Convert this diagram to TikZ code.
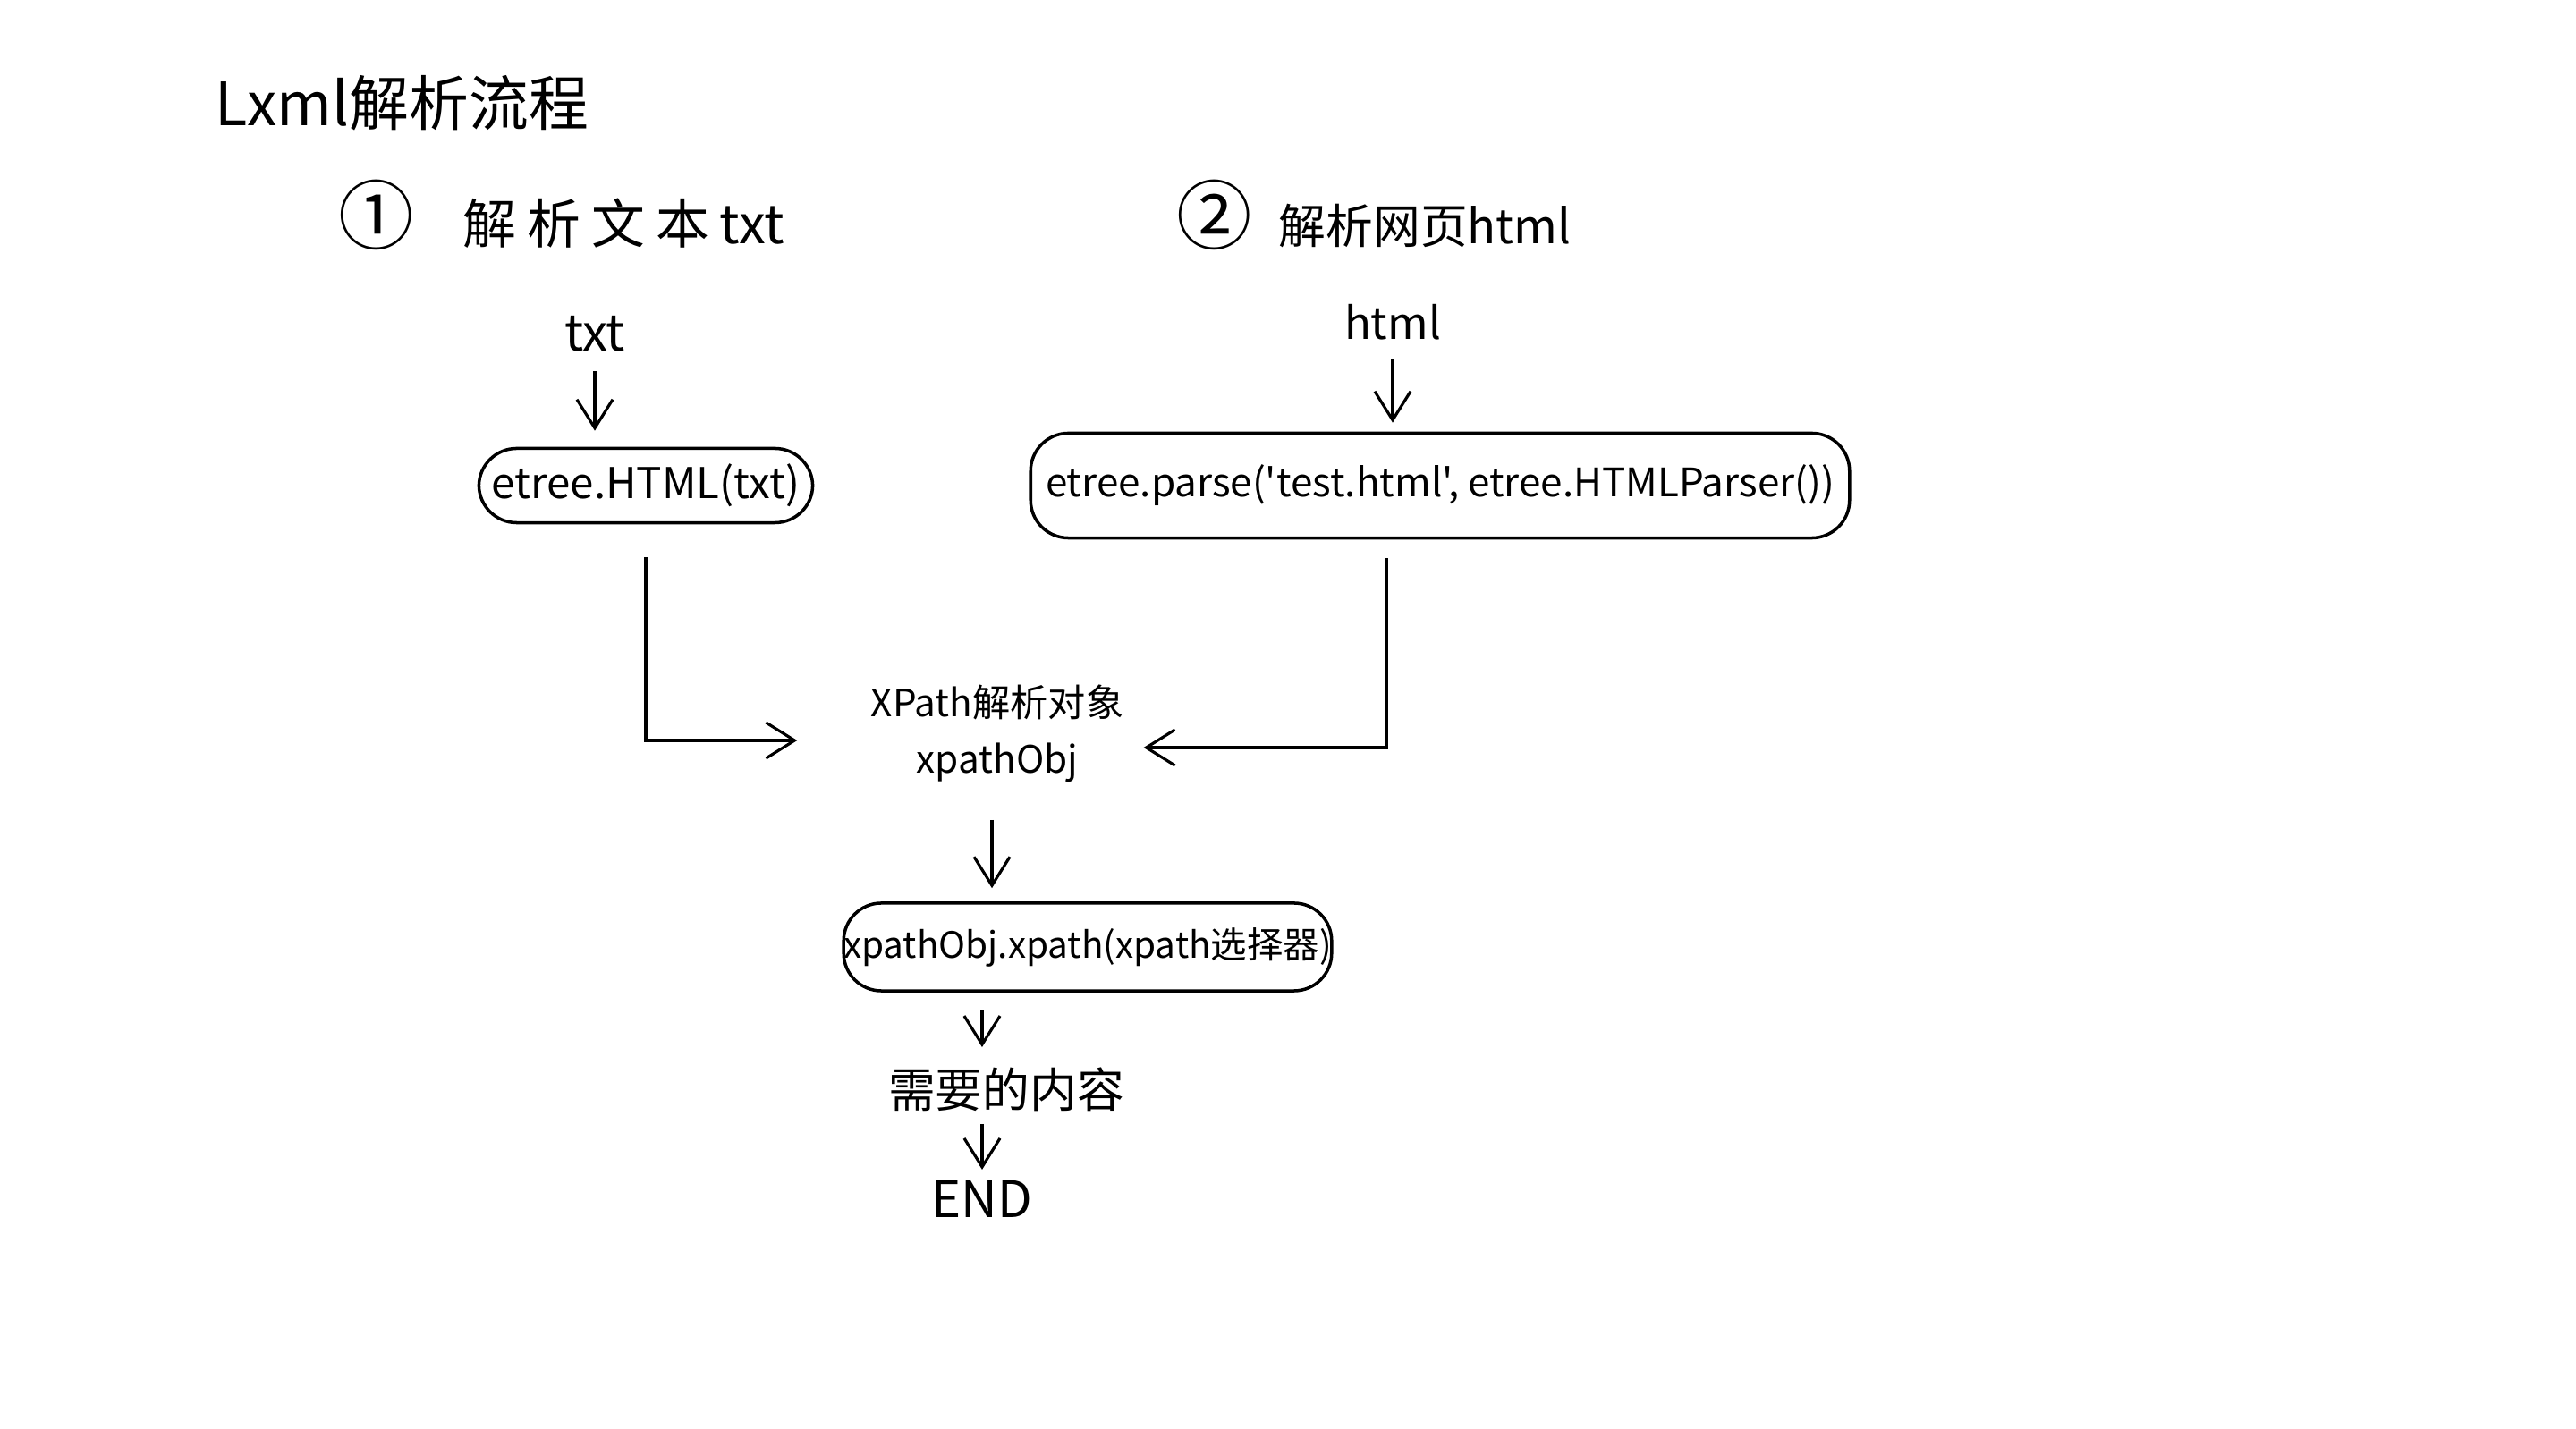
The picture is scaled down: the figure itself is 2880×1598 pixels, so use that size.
\documentclass[tikz,border=0pt]{standalone}
\usepackage{fontspec}
\newfontfamily\cjk{Noto Sans CJK SC}
\usetikzlibrary{arrows.meta}

\tikzset{
  hand/.style = {font = \cjk\fontsize{14pt}{16pt}\selectfont},
  box/.style = {draw, line width = 1pt, rounded corners = 12pt, inner sep = 0pt},
  flow/.style = {line width = 0.9pt, -{Straight Barb[length = 3.2mm, width = 4mm]}}
}

\begin{document}
\begin{tikzpicture}[x = 0.01cm, y = -0.01cm]
  \useasboundingbox (0, 0) rectangle (2880, 1598);

  % titles
  \node[hand, font = \cjk\fontsize{19pt}{20pt}\selectfont, anchor = west] (title) at (228, 115) {Lxml解析流程};
  \node[hand, font = \cjk\fontsize{17pt}{18pt}\selectfont, anchor = west] (step1) at (366, 240)
    {{\fontsize{24pt}{24pt}\selectfont ①}\hspace{0.55cm}解\hspace{0.12cm}析\hspace{0.12cm}文\hspace{0.12cm}本\hspace{0.12cm}txt};
  \node[hand, font = \cjk\fontsize{15pt}{18pt}\selectfont, anchor = west] (step2) at (1303, 240)
    {{\fontsize{24pt}{24pt}\selectfont ②}\hspace{0.3cm}解析网页html};

  % inputs
  \node[hand, font = \cjk\fontsize{16pt}{18pt}\selectfont] (txt) at (665, 373) {txt};
  \node[hand, font = \cjk\fontsize{14pt}{16pt}\selectfont] (html) at (1557, 360) {html};

  % parsers
  \node[box, hand, font = \cjk\fontsize{13.5pt}{16pt}\selectfont, minimum width = 3.73cm,
    minimum height = 0.83cm] (etreehtml) at (722, 543) {etree.HTML(txt)};
  \node[box, hand, font = \cjk\fontsize{12.5pt}{14pt}\selectfont, minimum width = 9.15cm,
    minimum height = 1.17cm] (etreeparse) at (1610, 543) {etree.parse('test.html', etree.HTMLParser())};

  \node[hand, font = \cjk\fontsize{12pt}{18pt}\selectfont, align = center] (xpath) at (1115, 820) {XPath解析对象\\xpathObj};

  \node[box, hand, font = \cjk\fontsize{11.5pt}{14pt}\selectfont, minimum width = 5.36cm,
    minimum height = 0.98cm] (xpathsel) at (1216, 1059) {xpathObj.xpath(xpath选择器)};

  \node[hand, font = \cjk\fontsize{15pt}{17pt}\selectfont] (result) at (1125, 1218) {需要的内容};
  \node[hand, font = \cjk\fontsize{16pt}{18pt}\selectfont] (end) at (1098, 1341) {END};

  % connectors
  \draw[flow, shorten <= 0.1cm, shorten >= 0.18cm] (txt.south) -- (txt.south |- etreehtml.north);
  \draw[flow, shorten <= 0.1cm, shorten >= 0.1cm] (html.south) -- (html.south |- etreeparse.north);

  \draw[flow, shorten <= 0.37cm, shorten >= 0.7cm] (etreehtml.south) |- ([yshift = -0.08cm]xpath.west);
  \draw[flow, shorten <= 0.21cm, shorten >= 0.1cm] ([xshift = -0.6cm]etreeparse.south) |- ([yshift = -0.16cm]xpath.east);

  \draw[flow, shorten <= 0.3cm, shorten >= 0.15cm] ([xshift = -0.06cm]xpath.south) -- ([xshift = -0.06cm]xpath.south |- xpathsel.north);
  \draw[flow, shorten <= 0.2cm, shorten >= 0.1cm] ([xshift = -0.27cm]xpathsel.south -| result.north) -- ([xshift = -0.27cm]result.north);
  \draw[flow, shorten <= 0.02cm, shorten >= 0.0cm] (end.north |- result.south) -- (end.north);
\end{tikzpicture}
\end{document}
